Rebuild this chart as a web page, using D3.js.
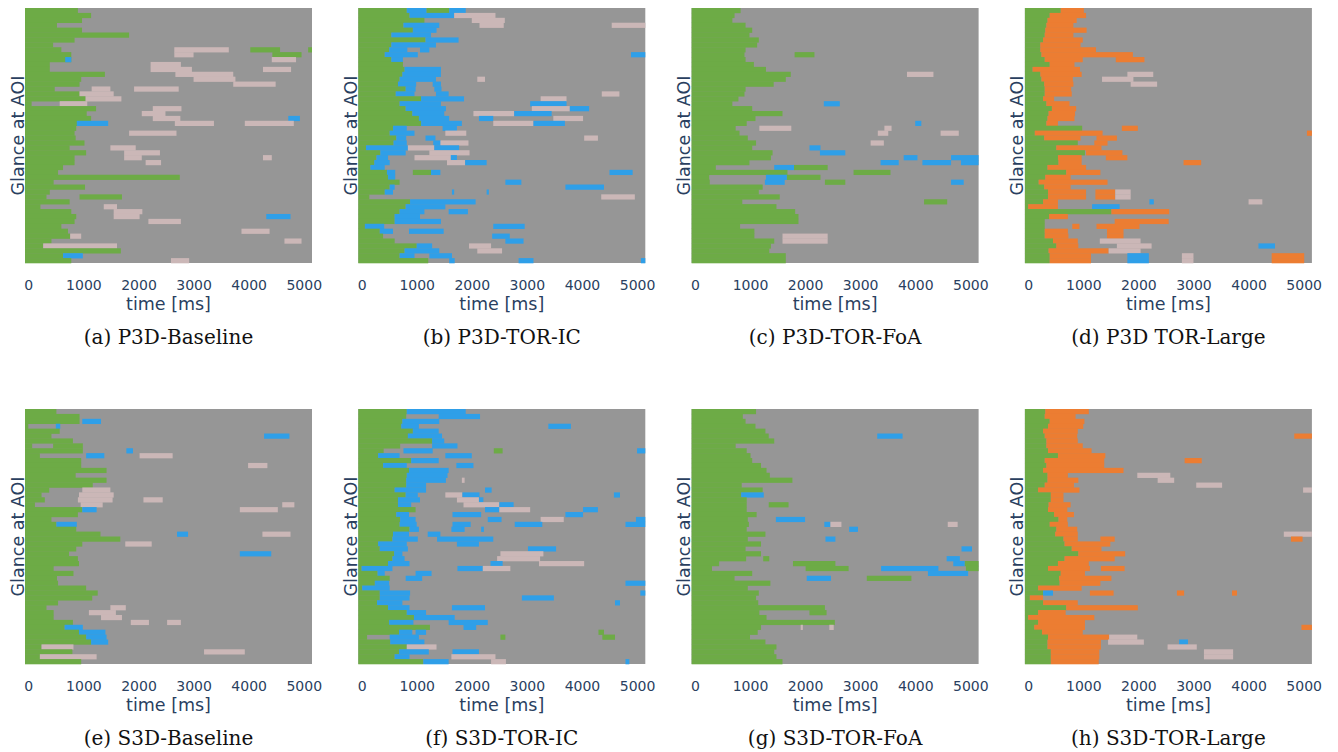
<!DOCTYPE html>
<html>
<head>
<meta charset="utf-8">
<script src="https://cdn.jsdelivr.net/npm/d3@7"></script>
<style>
  body { margin: 0; background: #fff; }
  text { fill: #2a3f5f; }
</style>
</head>
<body>
<svg id="fig" width="1338" height="752"></svg>
<script>
// each row: first number = end of the first road glance (green), then extra glances code+start-end (ms)
// g road, b instrument cluster, p other, o TOR-Large, x gray (no AOI)
const p3dBaseline = [
  "900", "1140", "975", "520", "975", "1830", "840", "450",
  "600 p2650-3640 g4030-4570 g5080-5150",
  "780 p2650-3000 g4430-4960",
  "780 b670-780 p4420-4860",
  "390 p2220-2770",
  "390 p2220-2970 p4260-4770",
  "1390 p2670-3720",
  "960 p3000-3760",
  "930 p3720-4490",
  "480 p1150-1490 p1920-2730",
  "930 p930-1550",
  "1040 p1040-1690",
  "60 p570-1070",
  "1230 p2260-2780",
  "1060 p2060-2490",
  "1140 p2260-2760 b4720-4930",
  "990 b880-1450 p2660-3370 p3930-4820",
  "870",
  "840 p1830-2690",
  "860", "1020",
  "750 p1490-1950",
  "1050 p1740-2390",
  "840 p1740-2060 p4260-4420",
  "840 p2130-2410",
  "630", "540", "2750", "460", "1030", "390",
  "330 g930-1700",
  "750",
  "220 p1370-1610",
  "780 p1550-2070",
  "870 p1550-2020 b4320-4760",
  "840 p2180-2770",
  "600",
  "720 p3870-4380",
  "760 p760-960",
  "420 p4650-4960",
  "270 p270-1610",
  "1680",
  "630 b630-990",
  "780 p2590-2920"
];

const p3dTorIC = [
  "820 b820-1180 g1180-1590 b1590-1890",
  "870 b870-1680 p1680-2430",
  "1140 p2000-2600",
  "760 b760-1410 p2140-2580 p4540-5150",
  "930 b930-1360",
  "540 b540-1260",
  "1160 b1160-1760",
  "540 b540-1350",
  "500 b500-830 b1060-1230",
  "420 b420-1020 b4890-5150",
  "540 b540-750",
  "750",
  "780 b780-1440",
  "740 b740-1440",
  "690 b690-1350 p2100-2240",
  "660 b660-990 b1290-1440",
  "800 b800-980 b1320-1450",
  "620 b620-960 b1350-1580 p4360-4680",
  "1080 b1080-1860 p3250-3720",
  "690 b690-1440 b3060-3720",
  "800 b800-1530 p3090-3780 b3780-4130",
  "920 b920-1500 p2030-2770 b2770-3450",
  "1040 b1040-1590 b2130-2390 p3480-4020",
  "1080 b1080-1820 p2390-3120 b3120-3690",
  "570 b570-820 b1470-1730",
  "510 b510-960 p1520-1900",
  "630 b630-810 b1160-1340 p4040-4290",
  "580 b580-820 b1300-1440 p1430-1940",
  "80 b80-840 p840-1320 b1320-1770",
  "340 b340-800 p1230-1960",
  "270 b270-480 p960-1620 b1620-1730",
  "230 b230-510 p1550-1880 b1880-2270",
  "160 b160-420",
  "460 b460-610 g930-1260 b1260-1430 b4500-4920",
  "480 b480-610",
  "690 b2610-2900",
  "510 b510-600 b3700-4400",
  "420 b420-570 b1640-1680 b2270-2310",
  "140 p4350-4960",
  "880 b880-2070",
  "800 b800-1520",
  "690 b690-1140 b1580-1930",
  "600 b600-1060",
  "600 b600-1440",
  "60 b60-410 b2390-2960",
  "330 b330-570 b860-1490",
  "390 b2370-2690",
  "600 b2610-2940",
  "1000 b1000-1280 p1950-2350",
  "780 b780-1410 p2100-2550",
  "690 b690-960 b1230-1640",
  "1210 b1590-1690 b2850-3120 b5070-5150"
];

const p3dTorFoA = [
  "830", "720", "680", "920", "1040", "990", "1160", "1130", "920",
  "900 g1810-2170",
  "920", "1070", "1290",
  "1740 p3850-4330",
  "1650", "1430", "920", "900", "790",
  "680 b2340-2630",
  "1040", "1590", "1100",
  "940 b4000-4110",
  "740 p1170-1750 p3440-3570",
  "810 p3320-3510 p4460-4790",
  "960",
  "1110 p3190-3430",
  "1040 b2080-2280",
  "1410 b2270-2730",
  "1380 b3790-4040 b4650-5150",
  "990 b3370-3700 b4130-4650 b4830-5150",
  "380 b1440-1800 g1800-2410",
  "1680 g2880-3550",
  "260 b1290-1670 g1670-2280",
  "270 b1270-1630 g2360-2730 b4650-4880",
  "1230", "1160", "1540",
  "860 g4160-4580",
  "1480", "1820", "1880", "1880", "820", "1080",
  "1080 p1590-2410",
  "1440 p1590-2410",
  "1380", "1350", "1650", "1650"
];

const p3dTorLarge = [
  "590 o590-1010",
  "390 o390-1050",
  "350 o350-880",
  "330 o330-820",
  "310 o310-1060",
  "300 o300-820",
  "270 o270-990",
  "220 o220-950",
  "220 o220-1230",
  "240 o240-1900",
  "300 o300-990 o1590-2110",
  "390 o390-840",
  "80 o80-940",
  "220 o220-970 p1800-2270",
  "240 o240-810 p1340-1910",
  "290 o290-820 p1860-2340",
  "300 o300-780",
  "300 o300-790",
  "270 o270-470",
  "330 o330-750",
  "430 o430-870",
  "370 o370-850",
  "350 o350-840",
  "330 o330-540",
  "980 o1700-1990",
  "120 o120-1350 o5060-5150",
  "290 o290-950 o1240-1610",
  "900 o1200-1440",
  "510 o510-1330",
  "1030 o1050-1710",
  "540 o540-970 o1410-1800",
  "550 o550-970 o2820-3140",
  "350 o350-1050",
  "690 o690-1310",
  "310 o310-770",
  "190 o190-1440",
  "290 o290-770",
  "360 o360-1050 o1220-1580 p1580-1860",
  "360 o360-1050 o1220-1580 p1580-1860",
  "270 o270-540 b2200-2280 p4000-4250",
  "0 o0-540 b1160-1660",
  "1510 o1510-2560",
  "380 o380-720",
  "300 o1570-2550",
  "300 o800-930 o1240-2020",
  "300 o300-720 o1430-1730",
  "300 o300-730 o1430-1730",
  "450 o450-900 p1300-2040",
  "510 o510-910 p1610-2240 b4180-4480",
  "370 o370-1460 p1460-2040",
  "390 o390-1140 b1800-2190 p2790-3000 o4420-5010",
  "390 o390-1140 b1800-2190 p2790-3000 o4420-5010"
];

const s3dBaseline = [
  "510", "930",
  "930 b980-1320",
  "0 b500-580",
  "570",
  "420 b4280-4740",
  "810",
  "70 g450-990",
  "990 b1780-1900",
  "210 b1050-1380 p2020-2620",
  "960",
  "960 p3990-4340",
  "1420", "860", "1420", "1170",
  "380 p980-1490",
  "240 p920-1550",
  "300 p900-1530 p2090-2440",
  "120 p950-1350 p4610-4830",
  "980 b980-1240 p3840-4530",
  "900", "420",
  "510 b510-880",
  "870",
  "1310 b2700-2900 p4250-4760",
  "1670",
  "980 p1760-2240",
  "870",
  "740 b3840-4410",
  "900", "920", "460", "820", "520", "540", "1050", "1260", "1160", "540",
  "330 p1490-1770",
  "460 p1100-1590",
  "460 p1320-1700",
  "810 p1860-2190 p2520-2770",
  "660 b660-990",
  "920 b920-1400",
  "1050 b1050-1420",
  "1140 b1140-1450",
  "240 p240-820",
  "800 p3190-3930",
  "210 p210-1240",
  "960"
];

const s3dTorIC = [
  "820 b820-1890",
  "810 b1400-2150",
  "740 b740-1410",
  "720 b720-1040 b3390-3800",
  "930 b930-1400",
  "840 b840-1460",
  "1280 b1280-1500",
  "700 b1280-1740",
  "400 b760-1290 g2400-2560 b5000-5150",
  "300 b300-690 b1520-2000",
  "900 b900-1400",
  "390 b390-820 b1720-2030",
  "860 b860-1580",
  "820 b820-1560",
  "810 b810-1530 p1820-1870",
  "810 b810-1170",
  "600 b600-1170 b2240-2360",
  "800 b800-1020 p1520-1830 b1830-2140 b4580-4690",
  "660 b660-1060 p1730-2130 b2130-2210",
  "660 b660-900 p1850-2500 b2500-2760",
  "980 b2240-2500 p2500-3060 b4020-4290",
  "630 b630-860 b1650-2170 b3700-4020",
  "700 b700-980 b2290-2540 p3250-3670 b4980-5150",
  "690 b690-1000 b1650-1980 b2780-3280 b4790-5150",
  "870 b870-1040 b1630-1870 b2170-2220",
  "570 b570-860 b1200-1430",
  "560 b560-1020 b1370-2390",
  "300 b300-820 b1730-2130",
  "330 b330-840 b3020-3530",
  "590 b590-740 p2520-3300",
  "560 b560-780 p2460-3240",
  "480 b480-870 b2340-2560 p3220-4040",
  "0 b0-560 b1740-2200 p2200-2700",
  "290 b290-420 b980-1270",
  "510 b800-1100",
  "240 b240-500 b4790-5150",
  "10 b10-510",
  "330 b330-880 b5060-5150",
  "330 b330-870 b2910-3490",
  "280 b280-740 b4600-4690",
  "480 b480-870 b1640-2240",
  "820 b820-1170",
  "950 b950-1690",
  "500 b500-940 b1580-2290",
  "1240 b1850-2080",
  "680 b680-920 b980-1170 g4300-4400",
  "100 b510-1040 g2520-2610 g4370-4600",
  "520 b520-1140",
  "820 p820-1360",
  "680 b680-1220 b1650-2130",
  "600 b600-870 p1630-2430",
  "1120 b1120-1580 p2350-2620 b4790-4860"
];

const s3dTorFoA = [
  "1110", "870", "920", "1100", "1280",
  "1340 b3310-3770",
  "1440", "740", "940", "1010", "1040", "1200", "1300", "1360", "1770", "850", "1230",
  "840 b840-1250",
  "940",
  "940 g1340-1700",
  "940", "1120",
  "960 b1470-2000",
  "980 b2350-2460 p2460-2660 p4590-4770",
  "940 b2800-2960",
  "1280",
  "960 b2370-2550",
  "1200",
  "920 b4840-5030",
  "1200",
  "930 g1240-1350 b4570-4810",
  "440 g1780-2550 b4690-4900 g4900-5150",
  "310 g2010-2790 b3380-4420 g4920-5150",
  "1040 b4230-4960",
  "720 b2030-2470 g3120-3930",
  "1370", "960", "1160", "1110", "1150", "2360",
  "1170 g2080-2390",
  "1300", "2540",
  "1200 p1920-1960 p2440-2520",
  "1140", "1000", "1280", "1480", "1440", "1480", "1590"
];

const s3dTorLarge = [
  "310 o310-1100",
  "300 o300-860",
  "390 o390-1020",
  "360 o360-1000",
  "270 o270-900",
  "300 o300-890 o4830-5150",
  "330 o330-900",
  "330 o330-990",
  "360 o360-1150",
  "540 o540-1400",
  "300 o300-1380 o2840-3150",
  "330 o330-1380",
  "270 o270-1730",
  "350 o350-720 p1980-2580",
  "350 o350-910 p2350-2650",
  "300 o300-830 p3050-3520",
  "180 o180-930 p4990-5150",
  "410 o410-640",
  "410 o410-640",
  "370 o370-770",
  "360 o360-710",
  "470 o470-830",
  "550 o550-710",
  "390 o390-720",
  "510 o510-890",
  "490 o490-900 p4640-5150",
  "640 o640-900 o1310-1570 o4770-4980",
  "660 o660-1490",
  "790 o790-1330",
  "910 o910-1760",
  "660 o660-1570",
  "540 o540-1100",
  "360 o360-1120 o1320-1750",
  "590 o590-1030",
  "560 o560-1510",
  "570 o570-1310",
  "180 o180-970",
  "270 b270-450 o1120-1550 o2700-2830 o3700-3790",
  "30 o30-270",
  "270 o270-900",
  "690 o690-1990",
  "180 o180-680",
  "0 o0-1200",
  "180 o180-1030",
  "110 o110-1030 o4960-5150",
  "250 o250-990",
  "360 o360-1470 p1470-1980",
  "350 o350-1320 p1450-2100 b2740-2900",
  "350 o350-1320 p2530-3060",
  "410 o410-1290 p3190-3720",
  "410 o410-1290 p3190-3720",
  "410 o410-1280"
];

const captions = ["(a) P3D-Baseline", "(b) P3D-TOR-IC", "(c) P3D-TOR-FoA", "(d) P3D TOR-Large",
                  "(e) S3D-Baseline", "(f) S3D-TOR-IC", "(g) S3D-TOR-FoA", "(h) S3D-TOR-Large"];
const tickValues = [0, 1000, 2000, 3000, 4000, 5000];
const panels = [p3dBaseline, p3dTorIC, p3dTorFoA, p3dTorLarge, s3dBaseline, s3dTorIC, s3dTorFoA, s3dTorLarge];

const colors = { g: '#6dab46', b: '#2f9fe8', p: '#cbb7b7', o: '#ec7d32', x: '#969696' };
const W = 287, H = 255;
const tMin = -60, tMax = 5150;

const svg = d3.select('#fig');

const parseRow = s => {
  const tok = s.split(' ');
  const segs = [{ c: 'g', t0: tMin, t1: +tok[0] }];
  tok.slice(1).forEach(k => {
    const [a, b] = k.slice(1).split('-');
    segs.push({ c: k[0], t0: +a, t1: +b });
  });
  return segs;
};

panels.forEach((rows, i) => {
  const col = i % 4, line = Math.floor(i / 4);
  const x0 = 25 + col * 333.3;
  const y0 = line === 0 ? 8 : 409;
  const g = svg.append('g').attr('transform', `translate(${x0},${y0})`);

  const x = d3.scaleLinear().domain([tMin, tMax]).range([0, W]);
  const y = d3.scaleBand().domain(d3.range(rows.length)).range([0, H]);

  g.append('rect').attr('width', W).attr('height', H).attr('fill', colors.x);

  const data = rows.flatMap((r, ri) => parseRow(r).map(d => ({ ...d, row: ri })));
  g.append('g').selectAll('rect')
    .data(data.filter(d => d.t1 > d.t0))
    .enter().append('rect')
      .attr('x', d => x(Math.max(d.t0, tMin)))
      .attr('width', d => x(Math.min(d.t1, tMax)) - x(Math.max(d.t0, tMin)))
      .attr('y', d => y(d.row))
      .attr('height', y.bandwidth() + 0.3)
      .attr('fill', d => colors[d.c]);

  const ax = g.append('g')
    .attr('transform', `translate(0,${H})`)
    .call(d3.axisBottom(x).tickValues(tickValues).tickFormat(d3.format('d')).tickSize(0).tickPadding(17));
  ax.select('.domain').remove();
  ax.selectAll('text')
    .style('font-family', 'DejaVu Sans')
    .style('font-size', '14px')
    .style('fill', '#2a3f5f');

  g.append('text')
    .attr('x', W / 2).attr('y', H + 47)
    .attr('text-anchor', 'middle')
    .style('font-family', 'DejaVu Sans').style('font-size', '17.5px')
    .text('time [ms]');

  g.append('text')
    .attr('transform', `translate(-7.5,${H / 2}) rotate(-90)`)
    .attr('text-anchor', 'middle')
    .attr('dominant-baseline', 'central')
    .style('font-family', 'DejaVu Sans').style('font-size', '17.5px')
    .text('Glance at AOI');

  g.append('text')
    .attr('x', W / 2).attr('y', H + 81)
    .attr('text-anchor', 'middle')
    .style('font-family', 'DejaVu Serif').style('font-size', '20px')
    .style('fill', '#111')
    .text(captions[i]);
});
</script>
</body>
</html>
